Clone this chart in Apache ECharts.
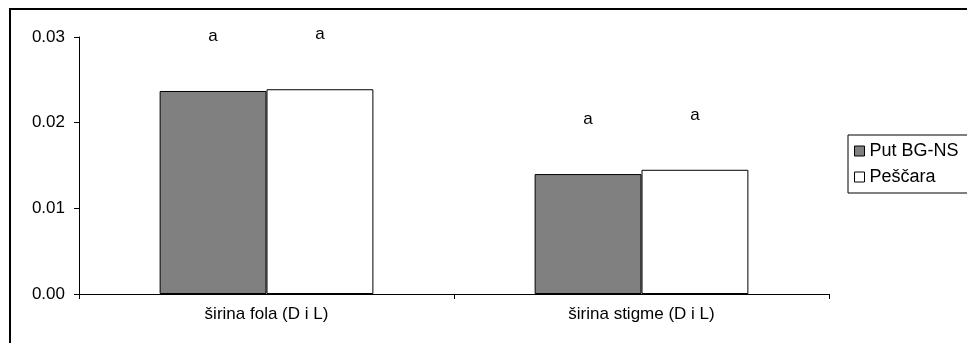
<!DOCTYPE html>
<html>
<head>
<meta charset="utf-8">
<script src="https://cdn.jsdelivr.net/npm/echarts@6/dist/echarts.min.js"></script>
<style>
  html, body { margin: 0; padding: 0; background: #fff; }
  #main { width: 967px; height: 343px; }
</style>
</head>
<body>
<div id="main"></div>
<script>
// kategorije i vrijednosti (očitano sa slike)
var categories = ['širina fola (D i L)', 'širina stigme (D i L)'];
var seriesNames = ['Put BG-NS', 'Peščara'];
var putBgNs = [0.0237, 0.0140];
var pescara = [0.0239, 0.0145];
var letters = [['a', 'a'], ['a', 'a']]; // oznake značajnosti po seriji
var yTicks = [0, 0.01, 0.02, 0.03];

var font = 'Liberation Sans, Arial, sans-serif';
var chart = echarts.init(document.getElementById('main'));

function barSeries(name, values, color, marks) {
  return {
    name: name,
    type: 'bar',
    barGap: 0,
    barCategoryGap: '43%',
    itemStyle: { color: color, borderColor: '#000', borderWidth: 1 },
    label: {
      show: true,
      position: 'top',
      distance: 46,
      color: '#000',
      fontSize: 17,
      fontFamily: font,
      formatter: function (p) { return marks[p.dataIndex]; }
    },
    data: values
  };
}

var option = {
  animation: false,
  backgroundColor: '#fff',
  graphic: [{
    type: 'rect',
    shape: { x: 10, y: 9, width: 980, height: 360 },
    style: { fill: 'none', stroke: '#000', lineWidth: 2 }
  }],
  legend: {
    orient: 'vertical',
    left: 848,
    top: 135,
    data: seriesNames,
    itemWidth: 10,
    itemHeight: 10,
    itemGap: 8,
    padding: [7, 40, 7, 6],
    borderColor: '#000',
    borderWidth: 1,
    backgroundColor: '#fff',
    textStyle: { fontSize: 18, fontFamily: font, color: '#000' },
    icon: 'rect',
    itemStyle: { borderColor: '#000', borderWidth: 1 }
  },
  grid: { left: 79, right: 138, top: 37, bottom: 49 },
  xAxis: {
    type: 'category',
    data: categories,
    axisLine: { lineStyle: { color: '#000', width: 1 } },
    axisTick: { show: true, length: 5, lineStyle: { color: '#000' } },
    axisLabel: { color: '#000', fontSize: 17, fontFamily: font, margin: 12 }
  },
  yAxis: {
    type: 'value',
    min: yTicks[0],
    max: yTicks[yTicks.length - 1],
    interval: 0.01,
    axisLine: { show: true, lineStyle: { color: '#000', width: 1 } },
    axisTick: { show: true, length: 5, lineStyle: { color: '#000' } },
    splitLine: { show: false },
    axisLabel: {
      color: '#000', fontSize: 17, fontFamily: font, margin: 14,
      formatter: function (v) { return v.toFixed(2); }
    }
  },
  series: [
    barSeries(seriesNames[0], putBgNs, '#808080', letters[0]),
    barSeries(seriesNames[1], pescara, '#ffffff', letters[1])
  ]
};

chart.setOption(option);
</script>
</body>
</html>
